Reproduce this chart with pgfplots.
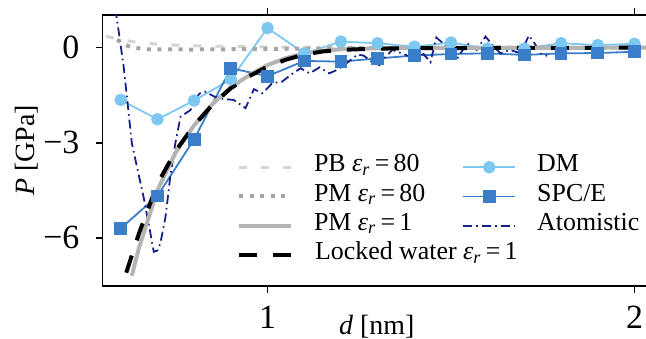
\documentclass[border=0pt]{standalone}
\usepackage{fontspec}
\setmainfont{Liberation Serif}
\usepackage{pgfplots}
\pgfplotsset{compat=1.18}
\definecolor{dmc}{RGB}{125,200,240}
\definecolor{spcc}{RGB}{58,125,200}
\definecolor{atc}{RGB}{22,32,140}
\definecolor{pbc}{RGB}{212,212,212}
\definecolor{pm80c}{RGB}{165,165,165}
\definecolor{pm1c}{RGB}{180,180,180}
\newcommand{\er}{\textit{ε}\textsubscript{\textit{r}}\,=\,}
\begin{document}
\begin{tikzpicture}
\begin{axis}[
  at={(0,0)}, anchor=south west,
  scale only axis, width=274.3bp, height=135.5bp,
  xmin=0.55, xmax=2.045, ymin=-7.52, ymax=1.03,
  xtick={1,2}, xticklabels={1,2},
  ytick={-6,-3,0}, yticklabels={−6,−3,0},
  tick align=outside, major tick length=3.3bp,
  tick style={black, line width=0.8bp},
  axis line style={line width=0.8bp},
  minor tick num=0,
  ticklabel style={font=\fontsize{17}{20}\selectfont, inner sep=0pt},
  xticklabel style={anchor=north, yshift=-6.5bp},
  yticklabel style={anchor=east, xshift=-8bp},
  xlabel={\textit{d} [nm]}, ylabel={\textit{P} [GPa]},
  label style={font=\fontsize{14}{16}\selectfont},
  xlabel style={at={(axis description cs:0.5,0)}, anchor=base, yshift=-24bp, inner sep=0pt},
  ylabel style={at={(axis description cs:-0.1385,0.5)}, anchor=center, inner sep=0pt},
  legend columns=2,
  legend cell align=left,
  legend style={draw=none, fill=none, font=\fontsize{13}{15}\selectfont,
    at={(axis description cs:0.2454,0.492)}, anchor=north west, inner sep=0pt, outer sep=0pt,
    nodes={inner sep=0pt, text height=9.6bp, text depth=5bp},
    /tikz/every odd column/.style={column sep=10.5bp},
    /tikz/every even column/.style={column sep=18.5bp}},
  legend image code/.code={\draw[mark repeat=2,mark phase=2,#1] plot coordinates {(0bp,0bp) (13bp,0bp) (26bp,0bp)};},
]
% legend
\addlegendimage{pbc, line width=1.5bp, dash pattern=on 4bp off 7bp}
\addlegendentry{PB \er 80}
\addlegendimage{dmc, line width=0.9bp, mark=*, mark size=2.7bp, mark options={solid, fill=dmc, draw=dmc}}
\addlegendentry{DM}
\addlegendimage{pm80c, line width=2bp, dash pattern=on 2bp off 3.3bp}
\addlegendentry{PM \er 80}
\addlegendimage{spcc, line width=0.9bp, mark=square*, mark size=2.75bp, mark options={solid, fill=spcc, draw=spcc}}
\addlegendentry{SPC/E}
\addlegendimage{pm1c, line width=2bp}
\addlegendentry{PM \er 1}
\addlegendimage{atc, line width=0.9bp, dash pattern=on 4.5bp off 2bp on 0.8bp off 2bp}
\addlegendentry{Atomistic}
\addlegendimage{black, line width=2bp, dash pattern=on 9bp off 8bp}
\addlegendentry{\makebox[0pt][l]{Locked water \er 1}}

% DM
\addplot[forget plot, dmc, line width=0.9bp, mark=*, mark size=2.7bp, mark options={solid, fill=dmc, draw=dmc}] coordinates {
(0.6,-1.65) (0.7,-2.26) (0.8,-1.67) (0.9,-1.0) (1.0,0.62) (1.1,-0.18) (1.2,0.19) (1.3,0.14) (1.4,0.03) (1.5,0.16) (1.6,-0.03) (1.7,-0.03) (1.8,0.14) (1.9,0.08) (2.0,0.12)};
% SPC/E
\addplot[forget plot, spcc, line width=0.9bp, mark=square*, mark size=2.75bp, mark options={solid, fill=spcc, draw=spcc}] coordinates {
(0.6,-5.70) (0.7,-4.68) (0.8,-2.89) (0.9,-0.65) (1.0,-0.90) (1.1,-0.42) (1.2,-0.44) (1.3,-0.34) (1.4,-0.25) (1.5,-0.2) (1.6,-0.18) (1.7,-0.23) (1.8,-0.18) (1.9,-0.17) (2.0,-0.13)};
% Atomistic
\addplot[forget plot, atc, line width=0.9bp, dash pattern=on 4.5bp off 2bp on 0.8bp off 2bp] coordinates {
(0.578,1.8) (0.586,1.19) (0.597,0.3) (0.608,-0.6) (0.62,-1.9) (0.63,-3.0) (0.65,-4.07) (0.662,-4.7) (0.676,-5.55) (0.69,-6.44) (0.70,-6.4) (0.708,-6.17) (0.722,-5.34) (0.735,-4.07) (0.749,-3.0) (0.763,-2.18) (0.777,-2.07) (0.79,-1.97) (0.804,-1.59) (0.817,-1.43) (0.83,-1.39) (0.856,-1.55) (0.88,-1.62) (0.908,-1.65) (0.94,-1.91) (0.963,-1.31) (0.986,-1.44) (1.013,-1.12) (1.04,-1.07) (1.063,-0.86) (1.09,-0.65) (1.115,-0.81) (1.142,-0.62) (1.168,-0.81) (1.19,-0.70) (1.22,-0.45) (1.245,-0.22) (1.262,-0.25) (1.285,-0.45) (1.305,-0.55) (1.318,-0.34) (1.340,-0.07) (1.37,-0.2) (1.40,-0.34) (1.425,-0.2) (1.444,-0.46) (1.46,0.32) (1.48,0.12) (1.50,-0.23) (1.517,-0.34) (1.544,0.14) (1.57,-0.07) (1.594,0.35) (1.617,0.03) (1.635,-0.18) (1.66,-0.07) (1.69,-0.18) (1.712,0.38) (1.725,0.19) (1.744,-0.18) (1.762,-0.26)};
% PB eps 80
\addplot[forget plot, pbc, line width=1.5bp, dash pattern=on 4bp off 7bp] coordinates {
(0.56,0.36) (0.60,0.25) (0.65,0.16) (0.70,0.11) (0.75,0.08) (0.80,0.06) (0.9,0.04) (1.0,0.02) (1.2,0.01) (1.5,0.0) (2.05,0.0)};
% PM eps 80
\addplot[forget plot, pm80c, line width=2bp, dash pattern=on 2bp off 3.3bp] coordinates {
(0.59,0.25) (0.62,0.05) (0.66,-0.05) (0.8,-0.06) (1.0,-0.04) (1.2,-0.02) (1.5,0.0) (2.05,0.0)};
% PM eps 1
\addplot[forget plot, pm1c, line width=2bp] coordinates {
(0.63,-7.2) (0.65,-6.3) (0.70,-4.5) (0.75,-3.3) (0.80,-2.45) (0.85,-1.78) (0.90,-1.25) (0.95,-0.87) (1.00,-0.55) (1.05,-0.33) (1.10,-0.18) (1.15,-0.10) (1.20,-0.05) (1.30,-0.02) (1.5,-0.01) (2.05,0.0)};
% Locked water
\addplot[forget plot, black, line width=2bp, dash pattern=on 9bp off 8bp] coordinates {
(0.615,-7.1) (0.65,-5.85) (0.70,-4.3) (0.75,-3.25) (0.80,-2.45) (0.85,-1.8) (0.90,-1.28) (0.95,-0.9) (1.00,-0.6) (1.05,-0.38) (1.10,-0.22) (1.15,-0.12) (1.20,-0.07) (1.30,-0.03) (1.40,-0.02) (1.6,-0.01) (2.05,0.0)};
\end{axis}
\pgfresetboundingbox
\useasboundingbox (-51.2bp,-26.5bp) rectangle (271.8bp,143bp);
\end{tikzpicture}
\end{document}
